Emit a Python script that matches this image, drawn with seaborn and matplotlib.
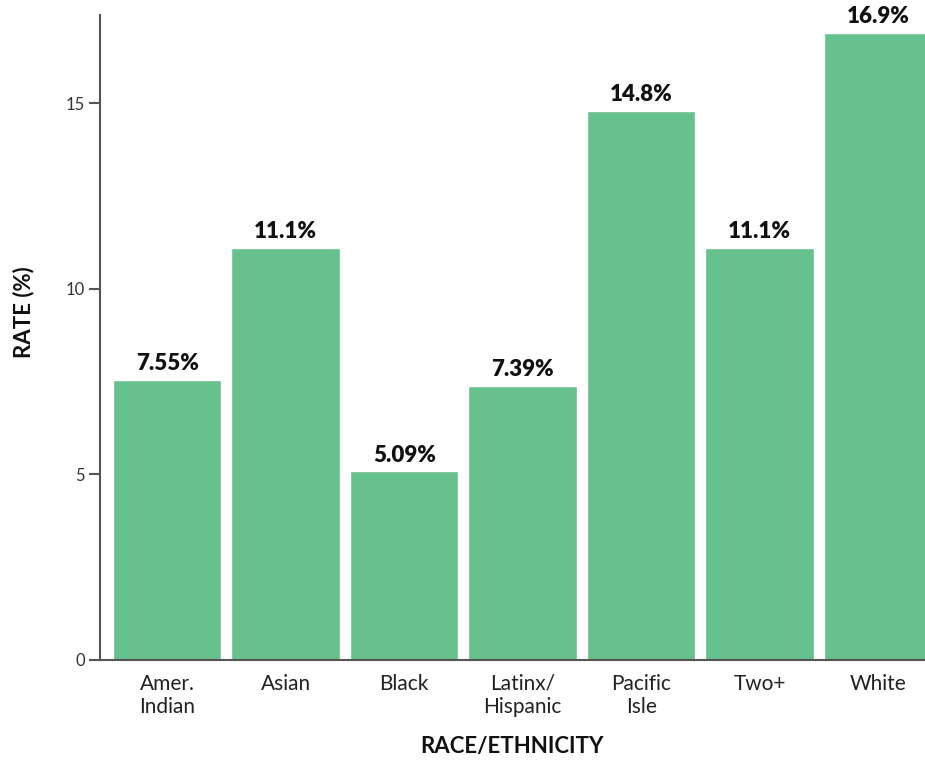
import matplotlib
matplotlib.use("Agg")
import matplotlib.pyplot as plt
import seaborn as sns
import pandas as pd

categories = ["Amer.\nIndian", "Asian", "Black", "Latinx/\nHispanic", "Pacific\nIsle", "Two+", "White"]
rates = [7.55, 11.1, 5.09, 7.39, 14.8, 11.1, 16.9]
y_ticks = [0, 5, 10, 15]

sns.set_theme(style="white")
plt.rcParams["font.family"] = ["Lato", "DejaVu Sans"]

df = pd.DataFrame({"group": categories, "rate": rates})

fig = plt.figure(figsize=(9.25, 7.63), dpi=100)
ax = fig.add_axes([0.1081, 0.135, 0.8919, 0.845])

sns.barplot(data=df, x="group", y="rate", color="#66c18c", saturation=1,
            width=0.915, ax=ax)

ax.bar_label(ax.containers[0], labels=[f"{v:.3g}%" for v in rates],
             padding=4, fontsize=16, fontweight="heavy", color="#111111")

ax.set_xlim(-0.567, 6.395)
ax.set_ylim(0, 17.37)
ax.set_yticks(y_ticks)
ax.tick_params(axis="y", length=8, width=1.5, color="#555555",
               labelsize=12, labelcolor="#333333", pad=3, left=True)
ax.tick_params(axis="x", length=0, labelsize=15, labelcolor="#222222", pad=10)
for lbl in ax.get_xticklabels():
    lbl.set_linespacing(1.2)

for side in ["top", "right"]:
    ax.spines[side].set_visible(False)
for side in ["left", "bottom"]:
    ax.spines[side].set_color("#555555")
    ax.spines[side].set_linewidth(1.5)

ax.set_xlabel("RACE/ETHNICITY", fontsize=16, fontweight="bold", color="#111111")
ax.set_ylabel("RATE (%)", fontsize=16, fontweight="bold", color="#111111")
ax.xaxis.set_label_coords(0.5, -0.118)
ax.yaxis.set_label_coords(-0.08, 0.54)

fig.savefig("out.png", dpi=100)
